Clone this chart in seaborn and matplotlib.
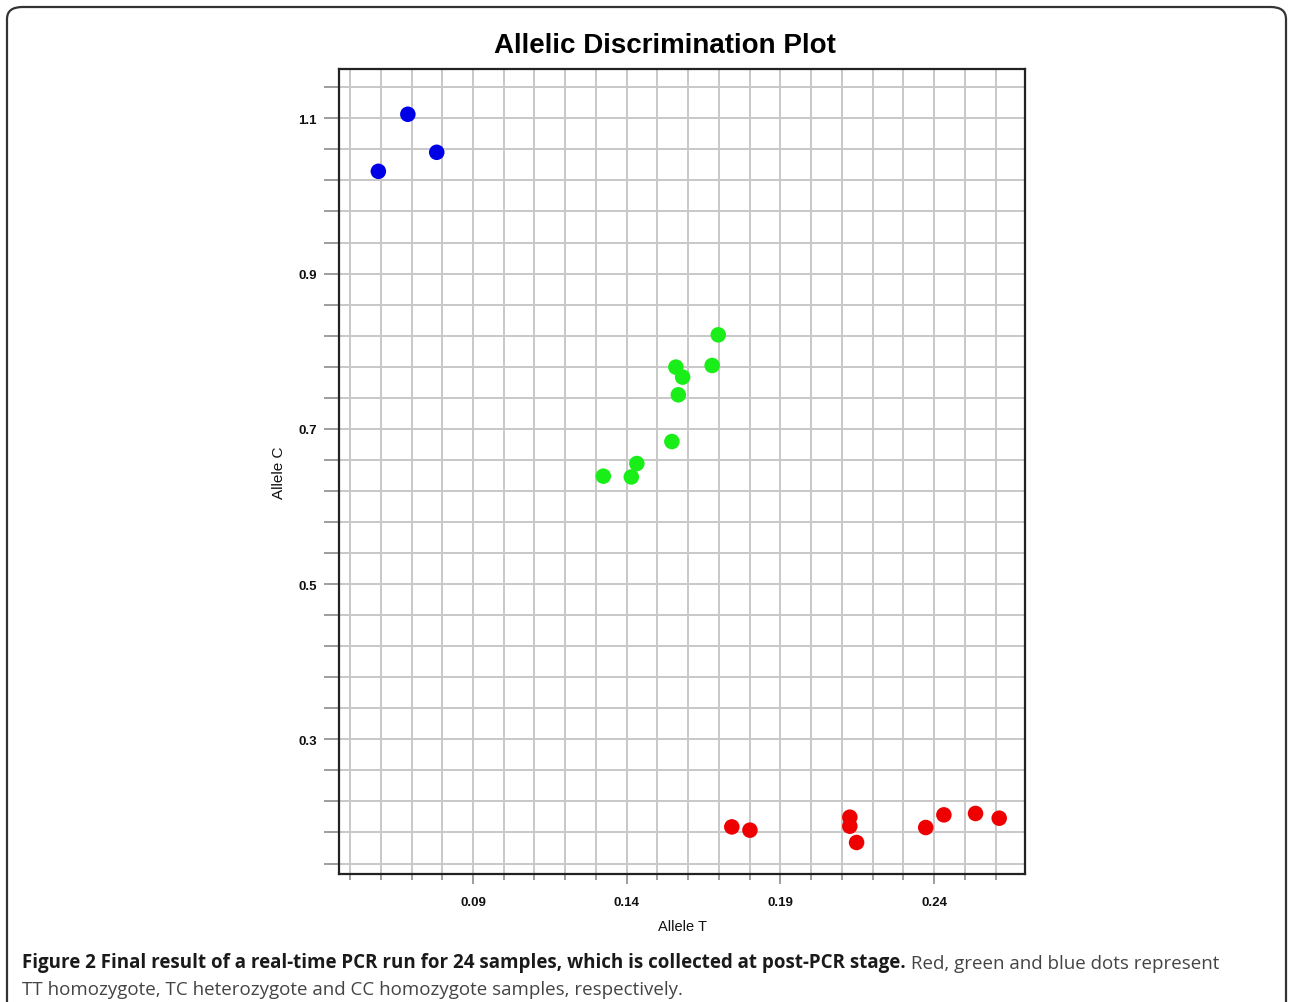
import numpy as np
import pandas as pd
import matplotlib
matplotlib.use("Agg")
import matplotlib.pyplot as plt
from matplotlib.ticker import FixedLocator
from matplotlib.patches import FancyBboxPatch
import seaborn as sns

# values
allele_t_cc = [0.0592, 0.0688, 0.0782]
allele_c_cc = [1.0317, 1.1052, 1.0562]

allele_t_tc = [0.1324, 0.1415, 0.1433, 0.1547, 0.1560, 0.1582, 0.1568, 0.1678, 0.1698]
allele_c_tc = [0.6390, 0.6380, 0.6553, 0.6836, 0.7795, 0.7666, 0.7438, 0.7816, 0.8211]

allele_t_tt = [0.1742, 0.1801, 0.2126, 0.2126, 0.2148, 0.2373, 0.2432, 0.2535, 0.2612]
allele_c_tt = [0.1872, 0.1830, 0.1997, 0.1881, 0.1671, 0.1864, 0.2027, 0.2045, 0.1984]

x_ticks = [0.09, 0.14, 0.19, 0.24]
y_ticks = [0.3, 0.5, 0.7, 0.9, 1.1]

df = pd.DataFrame({
    "Allele T": allele_t_cc + allele_t_tc + allele_t_tt,
    "Allele C": allele_c_cc + allele_c_tc + allele_c_tt,
    "genotype": ["CC"] * len(allele_t_cc) + ["TC"] * len(allele_t_tc) + ["TT"] * len(allele_t_tt),
})
palette = {"CC": "#0000e6", "TC": "#19ee19", "TT": "#ee0000"}

sns.set_style("white")
plt.rcParams["font.family"] = ["Liberation Sans", "DejaVu Sans"]

fig = plt.figure(figsize=(12.89, 10.03), dpi=100)
ax = fig.add_axes([0.263, 0.1276, 0.5322, 0.8026])

# grid first so dots sit on top
ax.set_axisbelow(True)
sns.scatterplot(data=df, x="Allele T", y="Allele C", hue="genotype", palette=palette,
                s=125, linewidth=0, legend=False, ax=ax, zorder=3)

ax.set_xlim(0.0464, 0.2696)
ax.set_ylim(0.1265, 1.1635)

ax.xaxis.set_major_locator(FixedLocator(x_ticks))
ax.xaxis.set_minor_locator(FixedLocator(np.round(np.arange(0.05, 0.265, 0.01), 2)))
ax.yaxis.set_major_locator(FixedLocator(y_ticks))
ax.yaxis.set_minor_locator(FixedLocator(np.round(np.arange(0.14, 1.16, 0.04), 2)))
ax.set_xticklabels([f"{v:.2f}" for v in x_ticks], fontweight="bold")
ax.set_yticklabels([f"{v:.1f}" for v in y_ticks], fontweight="bold")

ax.grid(True, which="both", color="#c8c8c8", linewidth=1.4)
ax.tick_params(axis="y", which="both", direction="out", length=11, width=1.2,
               color="#8c8c8c", labelsize=9.5, labelcolor="#111111", pad=5, left=True)
ax.tick_params(axis="x", which="major", direction="out", length=7, width=1.2,
               color="#8c8c8c", labelsize=9.5, labelcolor="#111111", pad=9, bottom=True)
ax.tick_params(axis="x", which="minor", direction="out", length=4, width=1.2,
               color="#8c8c8c", bottom=True)
for sp in ax.spines.values():
    sp.set_color("#222222")
    sp.set_linewidth(1.6)

ax.set_xlabel("Allele T", fontsize=10.5, labelpad=8, color="#111111")
ax.set_ylabel("Allele C", fontsize=11, labelpad=9, color="#111111")
ax.set_title("Allelic Discrimination Plot", fontsize=20, fontweight="bold", color="black",
             x=0.475, pad=12)

# rounded frame around the whole figure panel
frame = FancyBboxPatch((7 / 1289, -0.05), 1279 / 1289, 0.05 + 995 / 1003,
                       boxstyle="round,pad=0,rounding_size=0.012",
                       transform=fig.transFigure, fill=False,
                       edgecolor="#333333", linewidth=1.6, clip_on=False)
fig.patches.append(frame)

cap1 = fig.text(22 / 1289, 1 - 968 / 1003,
                "Figure 2 Final result of a real-time PCR run for 24 samples, which is collected at post-PCR stage.",
                fontsize=13.5, fontweight="bold", color="#1a1a1a", family="Open Sans")
ax.annotate(" Red, green and blue dots represent", xy=(1, 0), xycoords=cap1,
            va="bottom", ha="left", fontsize=13.5, color="#444444", family="Open Sans",
            annotation_clip=False)
fig.text(22 / 1289, 1 - 995 / 1003,
         "TT homozygote, TC heterozygote and CC homozygote samples, respectively.",
         fontsize=13.5, color="#444444", family="Open Sans")

fig.savefig("out.png", dpi=100)
